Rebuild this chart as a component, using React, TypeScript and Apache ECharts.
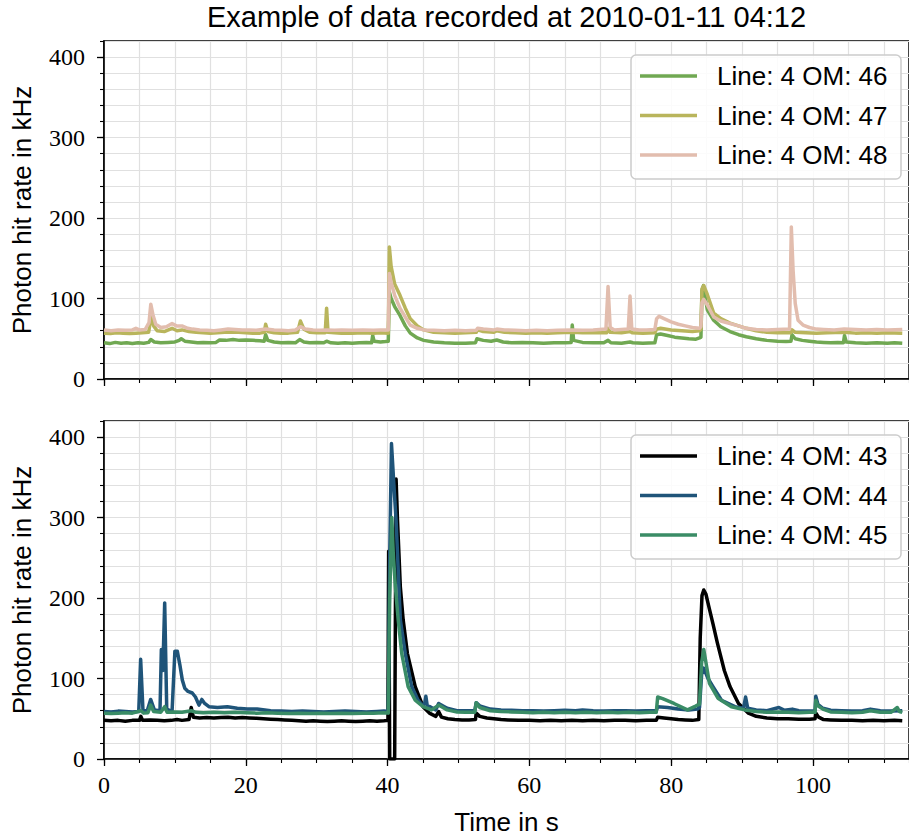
import { useEffect, useRef } from 'react';
import * as echarts from 'echarts';

// ---------- data (time in s, photon hit rate in kHz) ----------
const om46 = [[0,45],[0.8,44],[1.6,45.5],[2.4,44.5],[3.2,45],[4,44],[4.8,45],[5.6,44.5],[6.3,45.5],[6.6,49],[7.1,46],[8,45],[9,45.5],[10,46],[10.6,48],[10.9,50],[11.4,47],[12.3,46],[13.2,45],[14,45.5],[15,45],[15.8,45.5],[16.3,48.5],[17.2,48],[18.2,49],[19.1,48],[20,48.5],[21,48],[22,47.5],[22.6,47],[22.8,55],[23.1,48],[24,46],[25,45],[26,45.5],[27,45],[27.6,49],[28.2,46],[29,45],[30,45.5],[31,45],[31.4,47],[32,45],[33,44.5],[34,45],[35,44.5],[36,45],[37,45.5],[37.75,45],[37.9,54],[38.1,47],[39,46],[39.7,46.5],[40.1,47],[40.25,108],[40.5,100],[41,90],[41.75,79],[42.5,66],[43.2,57],[44.2,51],[45.1,48],[46.5,46],[48,45],[49.5,44.5],[51,44.5],[52.4,45],[52.6,50],[53.5,48],[54.6,47],[55.4,48.5],[56.3,46],[57.5,45],[59,45.5],[60.5,45],[62,44.5],[63.5,45],[65,45],[65.9,45.5],[66.05,67],[66.25,48],[67.5,45.5],[69,45],[70.5,45],[71.1,48],[71.5,45],[73,44.5],[74.2,46],[74.6,45],[76,44.5],[77.7,45],[77.95,55],[78.5,56],[79.5,54],[80.5,52],[81.5,51],[82.5,50],[83.5,49.5],[84,51],[84.2,52],[84.35,110],[84.55,116],[85.1,86],[86,73],[87,65],[88.3,59],[89.5,55],[90.6,52.5],[92,50],[93.5,48],[95,47],[96.2,46.5],[96.9,47],[97.05,55],[97.5,50],[98.5,48],[99.5,47],[100.5,46],[101.5,45.5],[102.5,45],[103.5,45.5],[104.3,45],[104.45,54],[104.7,46],[106,45],[107.5,44.5],[109,45],[110.5,44.5],[111.5,45],[112.6,44.5]];

const om47 = [[0,57],[0.9,56.5],[1.8,57.5],[2.7,57],[3.6,56.5],[4.5,57],[5.4,57.5],[6.3,58],[6.55,72],[6.7,77],[7,66],[7.5,60],[8.5,59],[9.6,63],[10.3,60],[11,61],[12,59],[13,58],[14,57.5],[15,57],[16,57.5],[17,58],[18,58.5],[19,58],[20,57.5],[21,57],[22,57],[22.6,58],[22.8,68],[23.1,59],[24,57.5],[25,57],[26,57],[27.3,58],[27.7,72],[28.2,62],[29,58],[30,57.5],[31.2,57.5],[31.4,88],[31.6,58],[32.5,57.5],[33.5,57],[35,57],[36.5,57.5],[38,57],[39,57.5],[40.1,57],[40.25,164],[40.5,140],[41,118],[41.75,104],[42.5,88],[43.2,75],[44.2,66],[45.1,61],[46.5,58],[48,57.5],[49.5,57],[51,57.5],[52.5,58],[52.7,61],[53.5,59],[55,58],[55.4,60],[56.5,58],[58,57.5],[59.5,57],[61,57.5],[62.5,57],[64,57.5],[66,58],[67.5,57.5],[69,57.5],[70.9,57.5],[71.1,63],[71.4,58],[73,57.5],[74.2,59],[74.5,57.5],[76,57],[77.7,57.5],[77.95,62],[78.5,63],[80,61],[81.5,60],[83,59],[84,60],[84.2,62],[84.35,112],[84.6,116],[85.1,105],[86,82],[87,75],[88.3,69.5],[89.5,66],[90.6,63],[92,60],[93.5,58],[95,57.5],[96.9,57.5],[97.05,61],[97.5,58],[99,57.5],[100.5,57],[102,57.5],[104.4,58],[106,57],[107.5,57.5],[109,57],[110.5,57.5],[112.6,57]];

const om48 = [[0,61],[1,60],[2,61],[3,60.5],[4,61],[4.5,63],[5,61],[5.8,61.5],[6.35,70],[6.6,93],[6.9,80],[7.3,68],[8,64],[8.8,65],[9.6,69],[10.2,66],[11,66],[11.8,63],[12.5,62],[13.5,61],[14.5,60.5],[15.5,60],[16.5,61],[17.5,62],[18.5,61.5],[19.5,61],[20.5,61],[21.5,60.5],[22.8,62],[24,61],[25,60.5],[26,60],[27,61],[27.7,65],[28.4,62],[29.5,61],[30.5,60.5],[31.4,61],[32.5,60.5],[33.5,61],[35,60.5],[36.5,61],[38,60.5],[39,61],[40.1,61],[40.25,131],[40.5,120],[41,104],[41.75,88],[42.5,77],[43.2,67],[44.2,63],[45.1,61],[46.5,60.5],[48,60],[49.5,60.5],[51,60],[52.5,60.5],[52.7,63],[53.5,62],[55,61],[55.4,62],[56.5,61],[58,60.5],[59.5,60],[61,60.5],[62.5,60],[64,60.5],[66,61],[67.5,60.5],[69,61],[70.8,62],[71.1,115],[71.4,64],[72,61],[73.95,62],[74.2,103],[74.45,62],[75.5,61],[76.5,61],[77.7,61.5],[77.95,75],[78.3,78],[79,75],[80,71],[81,68],[82,66],[83,64],[84,63],[84.2,65],[84.35,95],[84.6,99],[85.1,92],[86,77],[87,72],[88.3,69],[89.5,66],[90.6,63],[92,61.5],[93.5,61],[95,61.5],[96.7,62],[96.95,189],[97.2,135],[97.5,94],[97.9,73],[98.6,67],[99.5,64],[100.5,62],[101.5,61.5],[103,61],[104.4,62],[106,61.5],[107.5,61],[109,61.5],[110.5,61],[112.6,61.5]];

const om43 = [[0,48],[1,47.5],[2,48],[3,47],[4,48],[5,48],[5.2,53],[5.45,48],[6.5,48.5],[7.5,48],[8.5,47.5],[9.5,48],[10.3,49],[11,48],[12,49],[12.3,64],[12.6,52],[13.5,51],[14.5,51.5],[15.5,51],[16.5,51.5],[17.5,52],[18.5,51],[19.5,51.5],[20.5,51],[21.5,50.5],[22.5,50],[23.5,49.5],[24.5,49],[25.5,48.5],[26.5,48],[27.5,47.5],[28.5,47],[29.5,47.5],[30.5,47],[31.5,46.5],[32.5,47],[33.5,47.5],[34.5,47],[35.5,46.5],[36.5,47],[37.5,47.5],[38.5,47],[39.5,47.5],[40.05,48],[40.15,258],[40.3,0],[41,0],[41.2,348],[41.4,297],[41.6,256],[41.8,214],[42.2,173],[42.8,131],[43.9,90],[45,65],[45.9,57],[46.8,53],[47.2,59],[47.6,52],[48.5,50],[49.5,49],[50.5,48.5],[51.5,48.5],[52.4,49],[52.5,57],[53,53],[54,51],[55,50],[56,49],[57,48.5],[58.5,48],[60,48],[61.5,47.5],[63,48],[64.5,47.5],[66,48],[67.5,47.5],[69,48],[70.5,47.5],[72,48],[73.5,48],[75,47.5],[76.5,48],[77.9,48],[78.1,52],[79,51],[80,50],[81,49],[82,48.5],[83,48],[83.9,49],[84.1,150],[84.35,203],[84.6,210],[84.9,205],[85.3,190],[85.9,168],[86.5,145],[86.9,131],[87.5,110],[88.3,90],[89.5,69],[90.9,57],[92,53],[93.5,51],[95,50],[96.5,50],[98,49.5],[99.5,49.5],[100.3,50],[100.4,57],[100.8,52],[101.5,49],[102.5,48.5],[104,48],[105.5,48],[107,47.5],[108.5,48],[110,47.5],[111.5,48],[112.6,47.5]];

const om44 = [[0,59],[1,58.5],[2,59.5],[3,59],[4,58.5],[4.9,59],[5.17,124],[5.5,60],[6.1,60],[6.58,74],[7.1,61],[7.9,60],[8.09,136],[8.3,110],[8.56,194],[8.85,62],[9.6,59],[10,134],[10.34,134],[10.7,117],[11.05,98],[11.4,88],[11.85,84],[12.45,82],[12.9,77],[13.4,67],[13.8,74],[14.2,69],[14.8,65],[16,64],[17.4,65],[18.8,63],[20.2,62],[21.6,62],[23.5,60],[25,59.5],[26.5,59],[28,59.5],[29.5,59],[31,58.5],[32.5,59],[34,59.5],[35.5,59],[37,58.5],[38.5,59],[39.5,59.5],[40.1,59],[40.3,250],[40.55,392],[40.9,339],[41.2,297],[41.4,256],[41.6,214],[41.8,173],[42.5,131],[43.4,90],[44.3,73],[45,66],[45.25,70],[45.4,78],[45.6,66],[46,65],[46.8,61],[47.2,69],[48.4,63],[49.8,60],[51,60],[52.3,60],[52.5,70],[53,66],[54.5,62],[56,61],[57.5,60.5],[59,60],[60.5,60],[62,59.5],[63.5,60],[65,60.5],[66.5,60],[67.5,61],[69,60],[70.5,59.5],[72,60],[73.5,60],[75,59.5],[76.5,60],[77.9,60],[78.1,65],[79.5,64],[81,62],[82.5,61],[83.7,62],[84,64],[84.3,105],[84.6,113],[85.2,100],[85.9,90],[87.1,73],[89,65],[90.2,63],[90.5,77],[90.8,63],[92,61],[93.5,60],[95.2,64],[96,60.5],[97.1,62],[98,60],[99.5,59.5],[100.3,60],[100.4,78],[100.7,68],[101.4,63],[102.5,60.5],[104,60],[105.5,59.5],[107,60],[108.1,62],[109.5,60],[111,59.5],[112.6,60]];

const om45 = [[0,57],[1,56.5],[2,57],[3,57.5],[4,57],[5.2,60],[5.6,57],[6.2,57.5],[6.58,67],[7,59],[8,58],[8.56,65],[8.9,58],[10,58.5],[11,58],[12.3,60],[13,58],[14,57.5],[15.5,58],[17,57.5],[18.5,58],[20,57.5],[21.5,57],[23,57.5],[24.5,57],[26,56.5],[27.5,57],[29,56.5],[30.5,57],[32,56.5],[33.5,57],[35,56.5],[36.5,57],[38,57],[39.5,57.5],[40.1,57],[40.3,200],[40.6,300],[40.8,256],[41.1,214],[41.5,173],[42,131],[42.9,90],[43.9,73],[45,65],[46.2,61],[47.2,67],[48.4,61],[49.8,58.5],[51,58],[52.3,58],[52.5,70],[53,64],[54.5,60],[56,59],[57.5,58.5],[59,58],[60.5,57.5],[62,58],[63.5,57.5],[65,58],[66.5,57.5],[68,58],[69.5,57.5],[71,58],[72.5,57.5],[74,58],[75.5,57.5],[77,58],[77.9,58],[78.1,77],[78.8,75],[80.4,69],[82.3,61],[83.3,65],[83.7,67],[84,68],[84.3,120],[84.6,136],[85.4,94],[86.6,75.5],[88.5,65],[90.4,61],[92,59],[93.5,58],[95,58.5],[96.5,58],[98,57.5],[99.5,58],[100.3,58],[100.4,73],[100.7,66],[101.4,62],[102.5,58.5],[104,58],[105.5,57.5],[107,58],[108.1,60],[109.5,58],[111,58],[111.9,64],[112.2,59],[112.6,58]];

const xTicks = [0, 20, 40, 60, 80, 100];
const yTicks = [0, 100, 200, 300, 400];
const titleText = 'Example of data recorded at 2010-01-11 04:12';
const yName = 'Photon hit rate in kHz';
const xName = 'Time in s';

const topSeries = [
  { name: 'Line: 4 OM: 46', data: om46, color: '#70a852' },
  { name: 'Line: 4 OM: 47', data: om47, color: '#b9b55c' },
  { name: 'Line: 4 OM: 48', data: om48, color: '#e2bdae' },
];
const bottomSeries = [
  { name: 'Line: 4 OM: 43', data: om43, color: '#000000' },
  { name: 'Line: 4 OM: 44', data: om44, color: '#1f5479' },
  { name: 'Line: 4 OM: 45', data: om45, color: '#3a8c66' },
];

// ---------- layout ----------
const W = 909;
const H = 838;
const GRID_LEFT = 104;
const GRID_W = 805;
const X_MAX = 113.55;
const GRID_H = 338;
const GRID_TOPS = [41, 421];
const Y_MAX = 420;
const GRID_COLOR = '#e0e0e0';
const SANS = '"Liberation Sans", Arial, sans-serif';
const SERIF = '"Liberation Serif", "Times New Roman", serif';

function buildOption() {
  const grid = GRID_TOPS.map((top) => ({
    left: GRID_LEFT,
    top,
    width: GRID_W,
    height: GRID_H,
    show: true,
    borderColor: '#000',
    borderWidth: 1.6,
    backgroundColor: 'transparent',
  }));

  const xAxis: any[] = [];
  GRID_TOPS.forEach((_, i) => {
    // minor ticks + grid lines every 5 s
    xAxis.push({
      gridIndex: i,
      type: 'value',
      position: 'bottom',
      min: 0,
      max: X_MAX,
      interval: 5,
      axisLine: { show: true, onZero: false, lineStyle: { color: '#000', width: 1.6 } },
      axisTick: { show: true, inside: false, length: 4, lineStyle: { color: '#000', width: 1.1 } },
      splitLine: { show: true, lineStyle: { color: GRID_COLOR, width: 1.2 } },
      axisLabel: { show: false },
    });
    // major ticks + labels every 20 s
    xAxis.push({
      gridIndex: i,
      type: 'value',
      position: 'bottom',
      offset: 0,
      min: 0,
      max: X_MAX,
      interval: 20,
      axisLine: { show: false, onZero: false },
      axisTick: { show: true, inside: false, length: 7, customValues: xTicks, lineStyle: { color: '#000', width: 1.3 } },
      splitLine: { show: false },
      axisLabel: {
        show: i === 1,
        customValues: xTicks,
        margin: 14,
        fontFamily: SERIF,
        fontSize: 24,
        color: '#000',
      },
    });
  });

  const yAxis: any[] = [];
  GRID_TOPS.forEach((_, i) => {
    yAxis.push({
      gridIndex: i,
      type: 'value',
      position: 'left',
      min: 0,
      max: Y_MAX,
      interval: 20,
      axisLine: { show: true, onZero: false, lineStyle: { color: '#000', width: 1.6 } },
      axisTick: { show: true, inside: false, length: 4, lineStyle: { color: '#000', width: 1.1 } },
      splitLine: { show: true, lineStyle: { color: GRID_COLOR, width: 1.2 } },
      axisLabel: { show: false },
    });
    yAxis.push({
      gridIndex: i,
      type: 'value',
      position: 'left',
      offset: 0,
      min: 0,
      max: Y_MAX,
      interval: 100,
      axisLine: { show: false },
      axisTick: { show: true, inside: false, length: 7, customValues: yTicks, lineStyle: { color: '#000', width: 1.3 } },
      splitLine: { show: false },
      axisLabel: {
        show: true,
        customValues: yTicks,
        margin: 19,
        fontFamily: SERIF,
        fontSize: 24,
        color: '#000',
      },
    });
  });

  const mk = (s: any, i: number) => ({
    type: 'line',
    name: s.name,
    xAxisIndex: i * 2,
    yAxisIndex: i * 2,
    data: s.data,
    symbol: 'none',
    showSymbol: false,
    clip: true,
    color: s.color,
    lineStyle: { color: s.color, width: 3.5, join: 'round', cap: 'butt' },
  });

  const series = [...topSeries.map((s) => mk(s, 0)), ...bottomSeries.map((s) => mk(s, 1))];

  const txt = (text: string, x: number, y: number, size: number, family: string, extra: any = {}) => ({
    type: 'text',
    x,
    y,
    z: 100,
    ...extra,
    style: {
      text,
      x: 0,
      y: 0,
      fontSize: size,
      fontFamily: family,
      fill: '#000',
      align: 'center',
      verticalAlign: 'middle',
      textAlign: 'center',
      textVerticalAlign: 'middle',
    },
  });

  const legendBox = (list: any[], top: number) => {
    const items: any[] = [
      {
        type: 'rect',
        z: 100,
        shape: { x: 631, y: top, width: 270, height: 124, r: 5 },
        style: { fill: 'rgba(255,255,255,0.85)', stroke: '#cccccc', lineWidth: 1.5 },
      },
    ];
    list.forEach((s, k) => {
      const cy = top + 21 + k * 39.5;
      items.push({
        type: 'line',
        z: 101,
        shape: { x1: 640, y1: cy, x2: 697, y2: cy },
        style: { stroke: s.color, lineWidth: 3.5 },
      });
      items.push({
        type: 'text',
        z: 101,
        x: 717,
        y: cy,
        style: {
          text: s.name,
          x: 0,
          y: 0,
          fontSize: 26,
          fontFamily: SANS,
          fill: '#000',
          align: 'left',
          verticalAlign: 'middle',
          textAlign: 'left',
          textVerticalAlign: 'middle',
        },
      });
    });
    return items;
  };

  const graphic = [
    txt(titleText, (GRID_LEFT + W) / 2, 17, 29, SANS),
    txt(yName, 22, GRID_TOPS[0] + GRID_H / 2, 26, SANS, { rotation: Math.PI / 2 }),
    txt(yName, 22, GRID_TOPS[1] + GRID_H / 2, 26, SANS, { rotation: Math.PI / 2 }),
    txt(xName, (GRID_LEFT + W) / 2, 822, 26, SANS),
    ...legendBox(topSeries, 55),
    ...legendBox(bottomSeries, 435),
  ];

  return {
    animation: false,
    backgroundColor: '#ffffff',
    grid,
    xAxis,
    yAxis,
    series,
    graphic,
  };
}

export default function App() {
  const ref = useRef<HTMLDivElement>(null);
  useEffect(() => {
    if (!ref.current) return;
    const chart = echarts.init(ref.current, undefined, { renderer: 'svg', width: W, height: H });
    chart.setOption(buildOption() as any);
    return () => chart.dispose();
  }, []);
  return (
    <div
      ref={ref}
      style={{ position: 'absolute', left: 0, top: 0, width: W, height: H, background: '#fff', overflow: 'hidden' }}
    />
  );
}
